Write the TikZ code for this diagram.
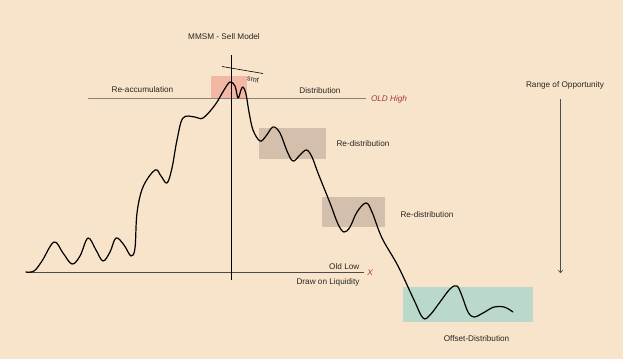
\documentclass[tikz,border=0pt]{standalone}
\usepackage{fontspec}
\setmainfont{Liberation Sans}
\usetikzlibrary{arrows.meta}
\definecolor{bg}{HTML}{F7E4CB}
\definecolor{redbox}{HTML}{F2B7A5}
\definecolor{graybox}{HTML}{D3BFAB}
\definecolor{greenbox}{HTML}{BAD9CA}
\definecolor{levelline}{HTML}{8A8278}
\definecolor{txt}{HTML}{2A2622}
\definecolor{redtxt}{HTML}{A23A3A}
\tikzset{
  lbl/.style={font=\fontsize{8.2}{10}\selectfont, text=txt, inner sep=0pt},
  redlbl/.style={font=\fontsize{8.2}{10}\selectfont\itshape, text=redtxt, inner sep=0pt},
  price/.style={line width=1.2pt, black, line cap=round, line join=round},
}
\begin{document}
\begin{tikzpicture}[x=1pt,y=-1pt]
\useasboundingbox (0,0) rectangle (623,359);
\fill[bg] (0,0) rectangle (623,359);
% zones
\fill[redbox] (211,76) rectangle (247,98);
\fill[graybox] (259,128) rectangle (326,159);
\fill[graybox] (322,197) rectangle (385,227);
\fill[greenbox] (403,287) rectangle (533,322);
% level lines
\coordinate (hiL) at (88,98.7);
\coordinate (hiR) at (366,98.7);
\draw[levelline, line width=1.5pt] (hiL) -- (hiR);
\coordinate (loL) at (26,272);
\coordinate (loR) at (364,272);
\draw[black!70, line width=1pt] (loL) -- (loR);
% vertical divider
\coordinate (vT) at (231,55);
\coordinate (vB) at (231,280);
\draw[black, line width=0.6pt] (vT) -- (vB);
% smt line
\coordinate (sA) at (222,66.5);
\coordinate (sB) at (263,73.5);
\draw[black, line width=0.6pt] (sA) -- (sB);
% price path
\draw[price] plot[smooth, tension=0.6] coordinates {
 (26,272) (34,271) (42,261) (54,242) (63,253) (72,264) (80,256) (88,238) (96,250) (103,261) (110,252) (116,238) (124,245) (131,256) (135,248)
 (137,213) (143,187) (155,170) (161,176) (167,183) (172,168) (177,140) (183,118) (195,117) (203,118) (215,105) (224,90) (230,82) (235,86) (238,98) (241,90) (243,87) (246,94) (249,112) (253,130) (260,141) (266,136) (273,127) (280,133) (287,151) (293,161) (300,155) (306.5,150) (312,157) (318,173) (330,203) (338,224) (344,232) (350,227) (357,212) (366,203) (372,212) (382,238) (398,266) (414,300) (423,318) (430,315) (440,302) (450,289) (457,286) (462,296) (468,312) (474,317) (483,313) (494,307) (504,307) (510,310) (513,312)
};
% arrow
\coordinate (aT) at (560.5,99);
\coordinate (aB) at (560.5,273);
\draw[black!70, line width=0.6pt, -{To[length=3pt,width=5pt]}] (aT) -- (aB);
% labels
\node[lbl] (title) at (224,37) {MMSM - Sell Model};
\node[lbl, font=\fontsize{7.5}{8}\selectfont, rotate=-12] (smt) at (253,79.5) {smt};
\node[lbl] (reacc) at (142.5,90) {Re-accumulation};
\node[lbl] (dist) at (320,91) {Distribution};
\node[redlbl] (oldhigh) at (389,99.5) {OLD High};
\node[lbl] (redist1) at (363,144) {Re-distribution};
\node[lbl] (redist2) at (427,215) {Re-distribution};
\node[lbl, anchor=east] (oldlow) at (359.5,266.5) {Old Low};
\node[redlbl] (xmark) at (370,273) {X};
\node[lbl] (dol) at (328,282) {Draw on Liquidity};
\node[lbl] (offset) at (476.5,339) {Offset-Distribution};
\node[lbl] (range) at (565,85) {Range of Opportunity};
\end{tikzpicture}
\end{document}
